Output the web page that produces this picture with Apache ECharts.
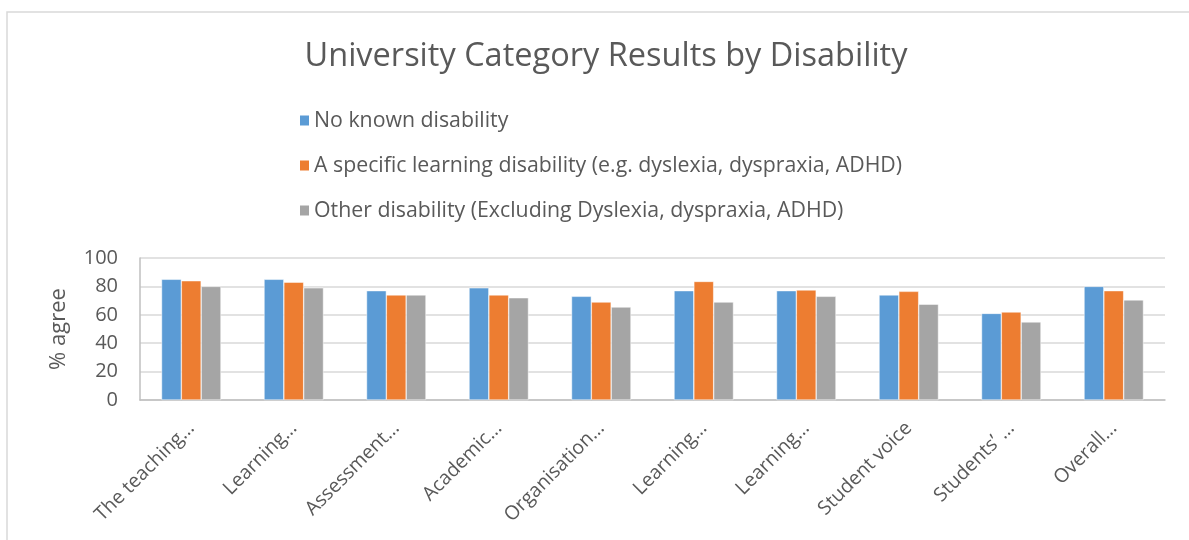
<!DOCTYPE html>
<html>
<head>
<meta charset="utf-8">
<style>
  html, body { margin: 0; padding: 0; background: #ffffff; }
  #chart { width: 1189px; height: 540px; }
</style>
<script src="https://cdn.jsdelivr.net/npm/echarts@6/dist/echarts.min.js"></script>
</head>
<body>
<div id="chart"></div>
<script>
// Category labels along the x axis (shortened as shown)
const categories = [
  'The teaching…', 'Learning…', 'Assessment…', 'Academic…', 'Organisation…',
  'Learning…', 'Learning…', 'Student voice', 'Students’ …', 'Overall…'
];

// % agree per category, one array per disability group
const noKnownDisability = [85, 85, 77, 79, 73, 77, 77, 74, 61, 80];
const specificLearningDisability = [84, 83, 74, 74, 69, 83.5, 77.5, 76.5, 62, 77];
const otherDisability = [80, 79, 74, 72, 65.5, 69, 73, 67.5, 55, 70.5];

const seriesNames = [
  'No known disability',
  'A specific learning disability (e.g. dyslexia, dyspraxia, ADHD)',
  'Other disability (Excluding Dyslexia, dyspraxia, ADHD)'
];

const yTicks = { min: 0, max: 100, interval: 20 };

const FONT = '"Open Sans"';
const TEXT = '#595959';

const chart = echarts.init(document.getElementById('chart'));

function barSeries(name, values, color) {
  return {
    name: name,
    type: 'bar',
    data: values,
    barGap: '0%',
    barCategoryGap: '42%',
    itemStyle: { color: color, borderColor: '#ffffff', borderWidth: 0.5 },
    emphasis: { disabled: true }
  };
}

chart.setOption({
  animation: false,
  textStyle: { fontFamily: FONT, color: TEXT },
  title: {
    text: 'University Category Results by Disability',
    left: 601,
    top: 35,
    textAlign: 'center',
    textStyle: { fontFamily: FONT, fontSize: 32.5, fontWeight: 'normal', color: TEXT }
  },
  legend: {
    orient: 'vertical',
    left: 293,
    top: 105,
    itemWidth: 11,
    itemHeight: 12,
    itemGap: 24,
    icon: 'rect',
    textStyle: { fontFamily: FONT, fontSize: 21.3, color: TEXT, padding: [0, 0, 0, -1] },
    data: seriesNames
  },
  graphic: [{
    type: 'rect',
    shape: { x: 7, y: 12, width: 1300, height: 600 },
    style: { fill: 'none', stroke: '#d9d9d9', lineWidth: 1.5 },
    silent: true
  }],
  grid: { left: 140, right: 24, top: 258, bottom: 140 },
  xAxis: {
    type: 'category',
    data: categories,
    axisLine: { lineStyle: { color: '#bfbfbf', width: 1.5 } },
    axisTick: { show: false },
    axisLabel: {
      interval: 0,
      rotate: 45,
      margin: 25,
      fontFamily: FONT,
      fontSize: 19.5,
      color: TEXT
    }
  },
  yAxis: {
    type: 'value',
    min: yTicks.min,
    max: yTicks.max,
    interval: yTicks.interval,
    name: '% agree',
    nameLocation: 'middle',
    nameGap: 70,
    nameTextStyle: { fontFamily: FONT, fontSize: 22, color: TEXT },
    axisLine: { show: true, lineStyle: { color: '#bfbfbf', width: 1.5 } },
    axisTick: { show: false },
    axisLabel: { margin: 22, fontFamily: FONT, fontSize: 20, color: TEXT },
    splitLine: { lineStyle: { color: '#d9d9d9', width: 1.5 } }
  },
  series: [
    barSeries(seriesNames[0], noKnownDisability, '#5B9BD5'),
    barSeries(seriesNames[1], specificLearningDisability, '#ED7D31'),
    barSeries(seriesNames[2], otherDisability, '#A5A5A5')
  ]
});
</script>
</body>
</html>
